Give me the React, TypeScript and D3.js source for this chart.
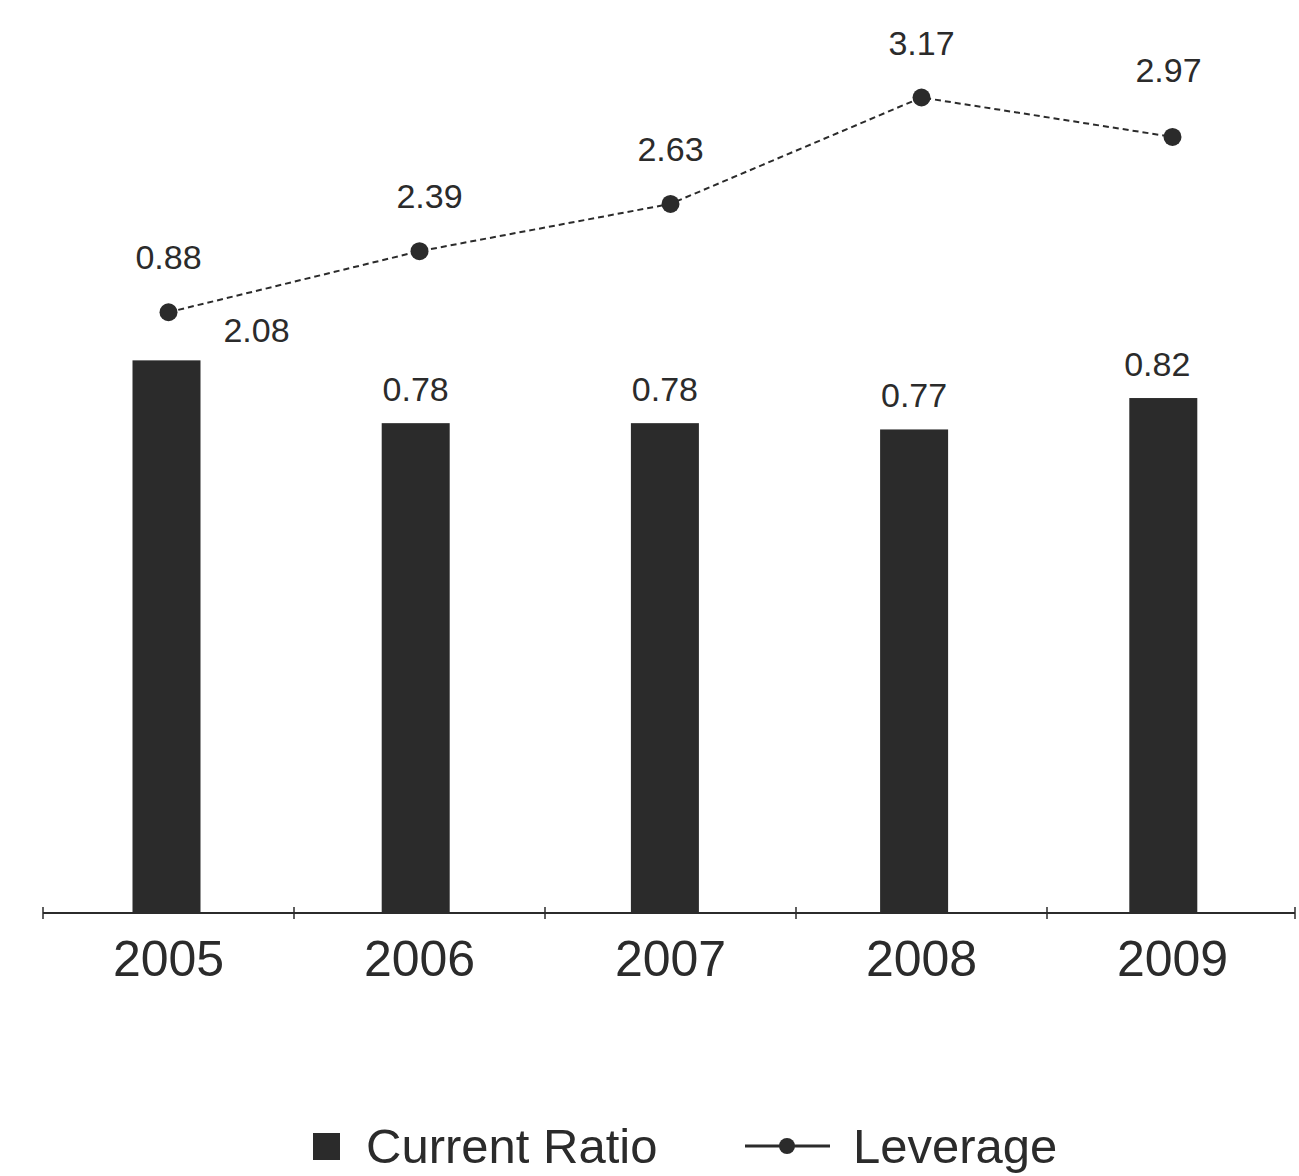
import React from "react";
import * as d3 from "d3";

// Financial ratios by year
const years = ["2005", "2006", "2007", "2008", "2009"];
const currentRatio = [0.88, 0.78, 0.78, 0.77, 0.82];
const leverage = [2.08, 2.39, 2.63, 3.17, 2.97];

const W = 1299;
const H = 1176;
const baseline = 913;
const ink = "#2b2b2b";
const font = "'Liberation Sans', Arial, Helvetica, sans-serif";

// 2005's two labels sit apart from the others so they don't collide
const barLabelShift = [{ dx: 90, dy: 0 }, { dx: 0, dy: 0 }, { dx: 0, dy: 0 }, { dx: 0, dy: 0 }, { dx: -6, dy: 0 }];
const lineLabelShift = [{ dx: 0, dy: 0 }, { dx: 10, dy: 0 }, { dx: 0, dy: 0 }, { dx: 0, dy: 0 }, { dx: -4, dy: -12 }];

export default function App() {
  const x = d3.scaleBand<string>().domain(years).range([43, 1298]).padding(0);
  const yBar = d3.scaleLinear().domain([0, 1]).range([baseline, baseline - 628]);
  const yLine = d3.scaleLinear().domain([2, 3.2]).range([328, 91.6]);
  const barW = 68;
  const cx = (i: number) => (x(years[i]) as number) + x.bandwidth() / 2;
  const barX = (i: number) => cx(i) - barW / 2 - 2 - i * 1.8;

  const linePath = d3
    .line<number>()
    .x((_, i) => cx(i))
    .y((v) => yLine(v))(leverage) as string;

  const tickXs = years.map((y) => x(y) as number).concat([x.range()[1] - 3]);

  return (
    <svg
      width={W}
      height={H}
      style={{ position: "absolute", left: 0, top: 0, background: "#fff" }}
      fontFamily={font}
    >
      {/* bars */}
      {currentRatio.map((v, i) => (
        <rect
          key={"b" + i}
          x={barX(i)}
          y={yBar(v)}
          width={barW}
          height={baseline - yBar(v)}
          fill={ink}
        />
      ))}

      {/* category axis */}
      <line x1={tickXs[0]} x2={tickXs[tickXs.length - 1]} y1={baseline} y2={baseline} stroke={ink} strokeWidth={2} />
      {tickXs.map((t, i) => (
        <line key={"t" + i} x1={t} x2={t} y1={baseline - 6} y2={baseline + 6} stroke={ink} strokeWidth={1.5} />
      ))}
      {years.map((yr, i) => (
        <text key={"yl" + i} x={cx(i)} y={976} fontSize={50} textAnchor="middle" fill={ink}>
          {yr}
        </text>
      ))}

      {/* bar value labels */}
      {currentRatio.map((v, i) => (
        <text
          key={"bv" + i}
          x={barX(i) + barW / 2 + barLabelShift[i].dx}
          y={(i === 0 ? yLine(leverage[0]) + 30 : yBar(v) - 22) + barLabelShift[i].dy}
          fontSize={34}
          textAnchor="middle"
          fill={ink}
        >
          {i === 0 ? leverage[0].toFixed(2) : v.toFixed(2)}
        </text>
      ))}

      {/* leverage line */}
      <path d={linePath} fill="none" stroke={ink} strokeWidth={2} strokeDasharray="6 4" />
      {leverage.map((v, i) => (
        <circle key={"p" + i} cx={cx(i)} cy={yLine(v)} r={9} fill={ink} />
      ))}
      {leverage.map((v, i) => (
        <text
          key={"lv" + i}
          x={cx(i) + lineLabelShift[i].dx}
          y={yLine(v) - 43 + lineLabelShift[i].dy}
          fontSize={34}
          textAnchor="middle"
          fill={ink}
        >
          {i === 0 ? currentRatio[0].toFixed(2) : v.toFixed(2)}
        </text>
      ))}

      {/* legend */}
      <rect x={313} y={1133} width={27} height={27} fill={ink} />
      <text x={366} y={1163} fontSize={49} fill={ink}>Current Ratio</text>
      <line x1={745} x2={830} y1={1146} y2={1146} stroke={ink} strokeWidth={3} />
      <circle cx={787} cy={1146} r={8} fill={ink} />
      <text x={853} y={1163} fontSize={49} fill={ink}>Leverage</text>
    </svg>
  );
}
